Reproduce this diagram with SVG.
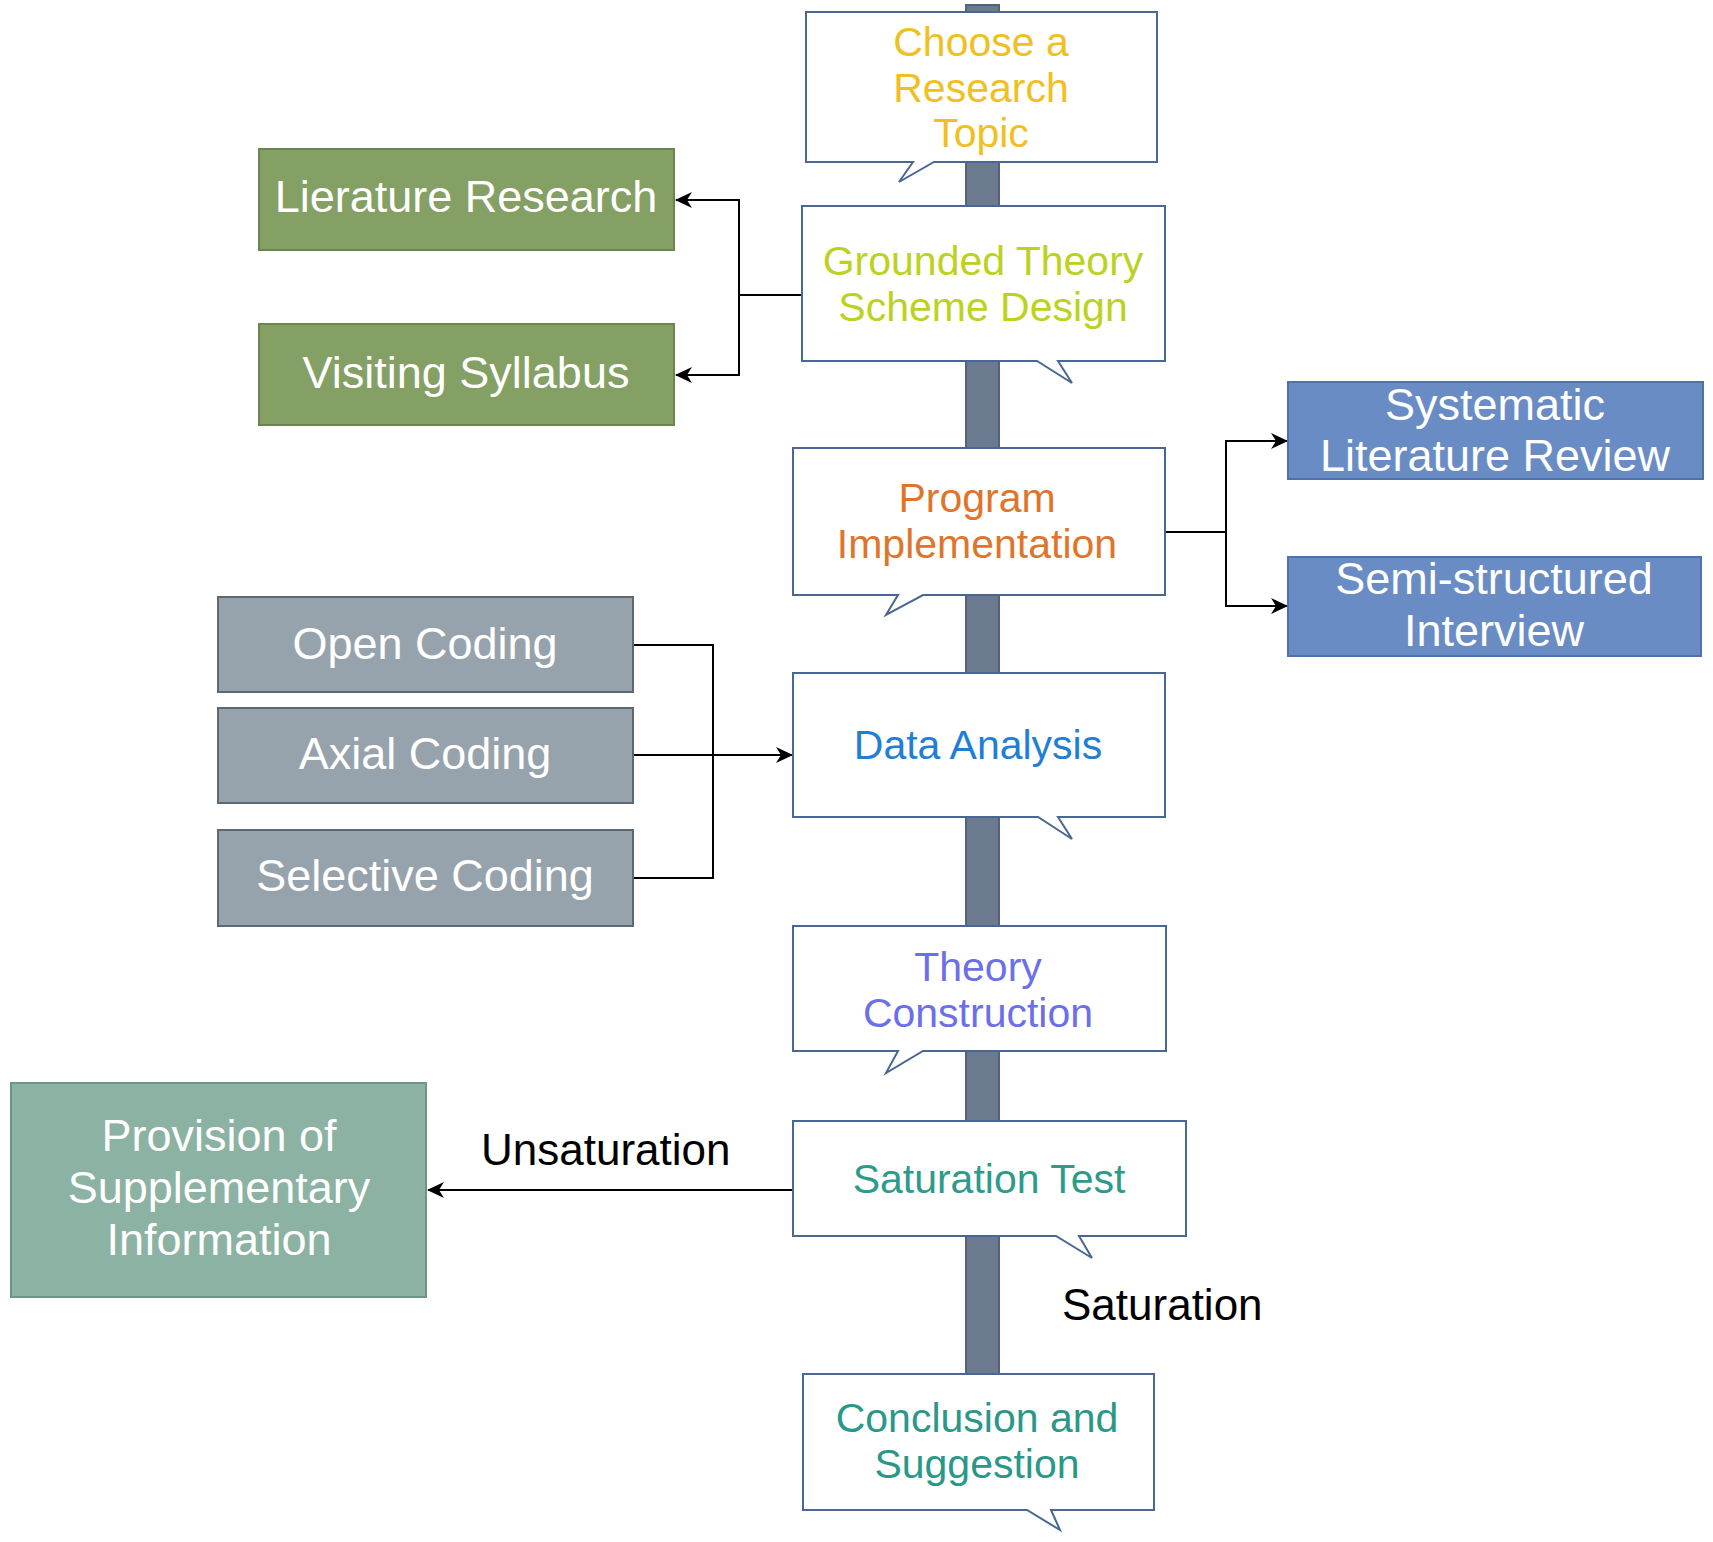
<svg xmlns="http://www.w3.org/2000/svg" width="1713" height="1542" viewBox="0 0 1713 1542">
<defs>
<marker id="arr" markerWidth="17" markerHeight="16" refX="16" refY="8" orient="auto" markerUnits="userSpaceOnUse">
<path d="M0,0 L17,8 L0,16 L5,8 Z" fill="#000"/>
</marker>
<style>
.t{font-family:"Liberation Sans",Arial,sans-serif;text-anchor:middle}
.c{font-size:41px}
.w{font-size:45px;fill:#fff}
.lbl{font-family:"Liberation Sans",Arial,sans-serif;font-size:44px;fill:#000}
.call{fill:#fff;stroke:#4a6794;stroke-width:2}
.green{fill:#85a064;stroke:#6a8550;stroke-width:2}
.blue{fill:#6a8cc4;stroke:#4f72aa;stroke-width:2}
.gray{fill:#97a3ac;stroke:#5d6870;stroke-width:2}
.teal{fill:#8bb2a2;stroke:#6d9686;stroke-width:2}
.conn{fill:none;stroke:#000;stroke-width:2}
</style>
</defs>
<rect width="1713" height="1542" fill="#fff"/>
<g id="spine">
<rect x="966" y="5" width="33" height="1370" fill="#6b7a8e" stroke="#55637a" stroke-width="2"/>
</g>
<g id="connectors">
<path class="conn" d="M802,295 H739 V200 H676" marker-end="url(#arr)"/>
<path class="conn" d="M739,295 V375 H676" marker-end="url(#arr)"/>
<path class="conn" d="M1165,532 H1226 V441 H1287" marker-end="url(#arr)"/>
<path class="conn" d="M1226,532 V606 H1287" marker-end="url(#arr)"/>
<path class="conn" d="M633,645 H713 V878 H633"/>
<path class="conn" d="M633,755 H792" marker-end="url(#arr)"/>
<path class="conn" d="M793,1190 H428" marker-end="url(#arr)"/>
</g>
<g id="choose">
<path class="call" d="M806,12 H1157 V162 H934 L899,182 L913,162 H806 Z"/>
<text class="t c" fill="#f0c020"><tspan x="981" y="56">Choose a</tspan><tspan x="981" y="102">Research</tspan><tspan x="981" y="147">Topic</tspan></text>
</g>
<g id="grounded">
<path class="call" d="M802,206 H1165 V361 H1058 L1072,383 L1037,361 H802 Z"/>
<text class="t c" fill="#bcd21e"><tspan x="983" y="275">Grounded Theory</tspan><tspan x="983" y="321">Scheme Design</tspan></text>
</g>
<g id="literature">
<rect class="green" x="259" y="149" width="415" height="101"/>
<text class="t w" x="466" y="212">Lierature Research</text>
</g>
<g id="visiting">
<rect class="green" x="259" y="324" width="415" height="101"/>
<text class="t w" x="466" y="388">Visiting Syllabus</text>
</g>
<g id="program">
<path class="call" d="M793,448 H1165 V595 H923 L886,615 L898,595 H793 Z"/>
<text class="t c" fill="#e0742a"><tspan x="977" y="512">Program</tspan><tspan x="977" y="558">Implementation</tspan></text>
</g>
<g id="systematic">
<rect class="blue" x="1288" y="382" width="415" height="97"/>
<text class="t w"><tspan x="1495" y="420">Systematic</tspan><tspan x="1495" y="471">Literature Review</tspan></text>
</g>
<g id="semi">
<rect class="blue" x="1288" y="557" width="413" height="99"/>
<text class="t w"><tspan x="1494" y="594">Semi-structured</tspan><tspan x="1494" y="646">Interview</tspan></text>
</g>
<g id="open">
<rect class="gray" x="218" y="597" width="415" height="95"/>
<text class="t w" x="425" y="659">Open Coding</text>
</g>
<g id="axial">
<rect class="gray" x="218" y="708" width="415" height="95"/>
<text class="t w" x="425" y="769">Axial Coding</text>
</g>
<g id="selective">
<rect class="gray" x="218" y="830" width="415" height="96"/>
<text class="t w" x="425" y="891">Selective Coding</text>
</g>
<g id="data">
<path class="call" d="M793,673 H1165 V817 H1058 L1072,839 L1038,817 H793 Z"/>
<text class="t c" fill="#1e7fd8" x="978" y="759">Data Analysis</text>
</g>
<g id="theory">
<path class="call" d="M793,926 H1166 V1051 H923 L886,1073 L898,1051 H793 Z"/>
<text class="t c" fill="#6b6fe8"><tspan x="978" y="981">Theory</tspan><tspan x="978" y="1027">Construction</tspan></text>
</g>
<g id="saturation">
<path class="call" d="M793,1121 H1186 V1236 H1079 L1092,1258 L1056,1236 H793 Z"/>
<text class="t c" fill="#2e9a8a" x="989" y="1193">Saturation Test</text>
</g>
<g id="provision">
<rect class="teal" x="11" y="1083" width="415" height="214"/>
<text class="t w"><tspan x="219" y="1151">Provision of</tspan><tspan x="219" y="1203">Supplementary</tspan><tspan x="219" y="1255">Information</tspan></text>
</g>
<g id="conclusion">
<path class="call" d="M803,1374 H1154 V1510 H1051 L1060,1530 L1027,1510 H803 Z"/>
<text class="t c" fill="#2a9888"><tspan x="977" y="1432">Conclusion and</tspan><tspan x="977" y="1478">Suggestion</tspan></text>
</g>
<g id="labels">
<text class="lbl" x="481" y="1165">Unsaturation</text>
<text class="lbl" x="1062" y="1320">Saturation</text>
</g>
</svg>
